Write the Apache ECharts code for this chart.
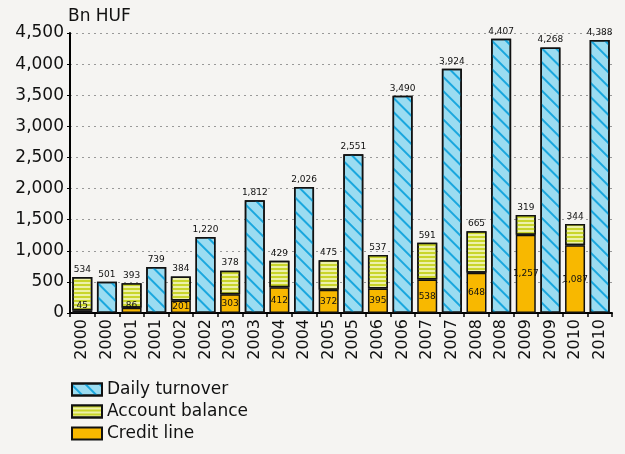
<!DOCTYPE html>
<html>
<head>
<meta charset="utf-8">
<script src="https://cdn.jsdelivr.net/npm/echarts@6/dist/echarts.min.js"></script>
<style>
  html, body { margin: 0; padding: 0; background: #f5f4f2; }
  #chart { width: 625px; height: 454px; }
</style>
</head>
<body>
<div id="chart"></div>
<script>
// categories: two bars per year (stacked credit+balance, then daily turnover)
const years = ['2000', '2000', '2001', '2001', '2002', '2002', '2003', '2003', '2004', '2004', '2005',
  '2005', '2006', '2006', '2007', '2007', '2008', '2008', '2009', '2009', '2010', '2010'];
const creditLine = [45, '-', 86, '-', 201, '-', 303, '-', 412, '-', 372, '-', 395, '-', 538, '-', 648, '-', 1257, '-', 1087, '-'];
const accountBalance = [534, '-', 393, '-', 384, '-', 378, '-', 429, '-', 475, '-', 537, '-', 591, '-', 665, '-', 319, '-', 344, '-'];
const dailyTurnover = ['-', 501, '-', 739, '-', 1220, '-', 1812, '-', 2026, '-', 2551, '-', 3490, '-', 3924, '-', 4407, '-', 4268, '-', 4388];

const font = 'DejaVu Sans';
const fmt = v => Number(v).toLocaleString('en-US');

const chart = echarts.init(document.getElementById('chart'));

// small credit values: label sits low inside the stack
const creditData = creditLine.map(v => (v !== '-' && v < 150)
  ? { value: v, label: { position: ['50%', '100%'], verticalAlign: 'bottom', offset: [0, -3] } }
  : v);

const labelStyle = {
  fontSize: 9, color: '#111', textBorderWidth: 0,
  formatter: p => fmt(p.value)
};

const option = {
  backgroundColor: '#f5f4f2',
  animation: false,
  textStyle: { fontFamily: font },
  grid: { left: 70, right: 13, top: 33, bottom: 141 },
  legend: {
    orient: 'vertical',
    left: 66,
    top: 376,
    height: 80,
    icon: 'rect',
    itemWidth: 30,
    itemHeight: 12,
    itemGap: 5,
    textStyle: { fontFamily: font, fontSize: 17, color: '#111' },
    data: ['Daily turnover', 'Account balance', 'Credit line']
  },
  xAxis: {
    type: 'category',
    data: years,
    axisLine: { lineStyle: { color: '#000', width: 2 } },
    axisTick: { show: true, length: 4, lineStyle: { color: '#000', width: 1.5 } },
    axisLabel: { rotate: 90, fontSize: 16, color: '#111', margin: 6, interval: 0 }
  },
  yAxis: {
    type: 'value',
    min: 0,
    max: 4500,
    interval: 500,
    name: 'Bn HUF',
    nameLocation: 'end',
    nameGap: 6,
    nameTextStyle: { fontSize: 17, color: '#111', align: 'left', padding: [0, 0, 0, -2] },
    axisLine: { show: true, lineStyle: { color: '#000', width: 2 } },
    axisTick: { show: true, length: 3, lineStyle: { color: '#000' } },
    axisLabel: { fontSize: 17, color: '#111', margin: 6, formatter: fmt },
    splitLine: { lineStyle: { color: '#999', type: [2, 4] } }
  },
  series: [
    {
      name: 'Credit line',
      type: 'bar',
      stack: 'all',
      barWidth: 20,
      data: creditData,
      itemStyle: { color: '#f8b800', borderColor: '#111', borderWidth: 1.5 },
      label: Object.assign({
        show: true, position: ['50%', '50%'], align: 'center', verticalAlign: 'middle'
      }, labelStyle)
    },
    {
      name: 'Account balance',
      type: 'bar',
      stack: 'all',
      barWidth: 20,
      data: accountBalance,
      itemStyle: {
        color: '#edf1a8',
        borderColor: '#111',
        borderWidth: 1.5,
        decal: { symbol: 'rect', color: '#c9d52a', dashArrayX: [1, 0], dashArrayY: [2, 2], rotation: 0 }
      },
      label: Object.assign({ show: true, position: 'top', distance: 3 }, labelStyle)
    },
    {
      name: 'Daily turnover',
      type: 'bar',
      stack: 'all',
      barWidth: 20,
      data: dailyTurnover,
      itemStyle: {
        color: '#9bdcf1',
        borderColor: '#111',
        borderWidth: 1.5,
        decal: { symbol: 'rect', color: '#1aa7de', dashArrayX: [1, 0], dashArrayY: [1.5, 8], rotation: Math.PI / 4 }
      },
      label: Object.assign({ show: true, position: 'top', distance: 3 }, labelStyle)
    }
  ]
};

chart.setOption(option);
</script>
</body>
</html>
